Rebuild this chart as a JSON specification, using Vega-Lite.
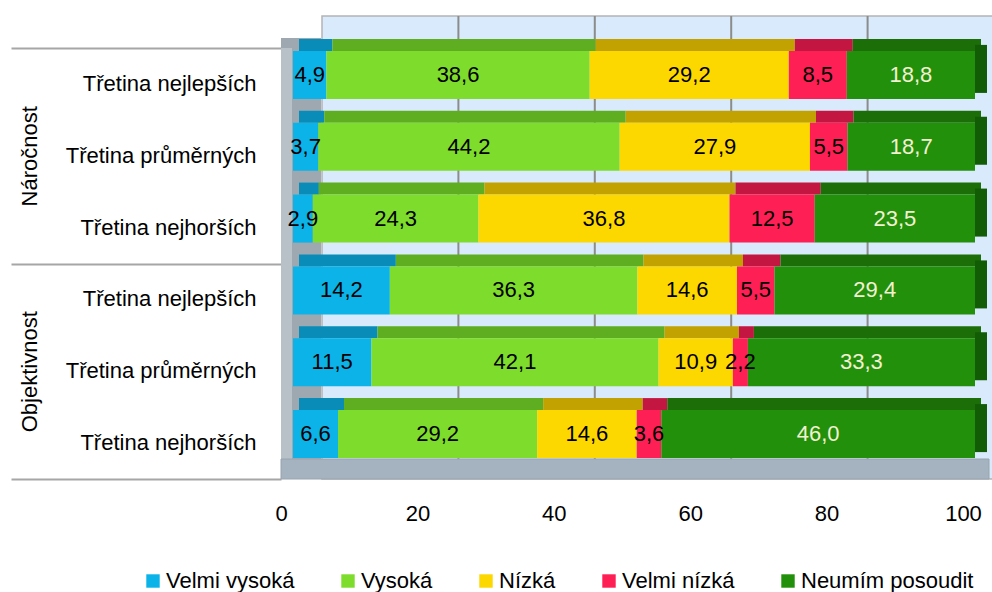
{
  "$schema": "https://vega.github.io/schema/vega-lite/v6.json",
  "padding": {"left": 10, "top": 15, "right": 0, "bottom": 0},
  "width": 682,
  "height": 431,
  "background": "white",
  "config": {
    "view": {"stroke": null},
    "font": "Liberation Sans, Arial, sans-serif",
    "locale": {"number": {"decimal": ",", "thousands": "\u00a0", "grouping": [3], "currency": ["", " Kč"]}}
  },
  "datasets": {
    "vals": [
      {"row": "Náročnost|Třetina nejlepších", "cat": "Velmi vysoká", "k": 1, "v": 4.9},
      {"row": "Náročnost|Třetina nejlepších", "cat": "Vysoká", "k": 2, "v": 38.6},
      {"row": "Náročnost|Třetina nejlepších", "cat": "Nízká", "k": 3, "v": 29.2},
      {"row": "Náročnost|Třetina nejlepších", "cat": "Velmi nízká", "k": 4, "v": 8.5},
      {"row": "Náročnost|Třetina nejlepších", "cat": "Neumím posoudit", "k": 5, "v": 18.8},
      {"row": "Náročnost|Třetina průměrných", "cat": "Velmi vysoká", "k": 1, "v": 3.7},
      {"row": "Náročnost|Třetina průměrných", "cat": "Vysoká", "k": 2, "v": 44.2},
      {"row": "Náročnost|Třetina průměrných", "cat": "Nízká", "k": 3, "v": 27.9},
      {"row": "Náročnost|Třetina průměrných", "cat": "Velmi nízká", "k": 4, "v": 5.5},
      {"row": "Náročnost|Třetina průměrných", "cat": "Neumím posoudit", "k": 5, "v": 18.7},
      {"row": "Náročnost|Třetina nejhorších", "cat": "Velmi vysoká", "k": 1, "v": 2.9},
      {"row": "Náročnost|Třetina nejhorších", "cat": "Vysoká", "k": 2, "v": 24.3},
      {"row": "Náročnost|Třetina nejhorších", "cat": "Nízká", "k": 3, "v": 36.8},
      {"row": "Náročnost|Třetina nejhorších", "cat": "Velmi nízká", "k": 4, "v": 12.5},
      {"row": "Náročnost|Třetina nejhorších", "cat": "Neumím posoudit", "k": 5, "v": 23.5},
      {"row": "Objektivnost|Třetina nejlepších", "cat": "Velmi vysoká", "k": 1, "v": 14.2},
      {"row": "Objektivnost|Třetina nejlepších", "cat": "Vysoká", "k": 2, "v": 36.3},
      {"row": "Objektivnost|Třetina nejlepších", "cat": "Nízká", "k": 3, "v": 14.6},
      {"row": "Objektivnost|Třetina nejlepších", "cat": "Velmi nízká", "k": 4, "v": 5.5},
      {"row": "Objektivnost|Třetina nejlepších", "cat": "Neumím posoudit", "k": 5, "v": 29.4},
      {"row": "Objektivnost|Třetina průměrných", "cat": "Velmi vysoká", "k": 1, "v": 11.5},
      {"row": "Objektivnost|Třetina průměrných", "cat": "Vysoká", "k": 2, "v": 42.1},
      {"row": "Objektivnost|Třetina průměrných", "cat": "Nízká", "k": 3, "v": 10.9},
      {"row": "Objektivnost|Třetina průměrných", "cat": "Velmi nízká", "k": 4, "v": 2.2},
      {"row": "Objektivnost|Třetina průměrných", "cat": "Neumím posoudit", "k": 5, "v": 33.3},
      {"row": "Objektivnost|Třetina nejhorších", "cat": "Velmi vysoká", "k": 1, "v": 6.6},
      {"row": "Objektivnost|Třetina nejhorších", "cat": "Vysoká", "k": 2, "v": 29.2},
      {"row": "Objektivnost|Třetina nejhorších", "cat": "Nízká", "k": 3, "v": 14.6},
      {"row": "Objektivnost|Třetina nejhorších", "cat": "Velmi nízká", "k": 4, "v": 3.6},
      {"row": "Objektivnost|Třetina nejhorších", "cat": "Neumím posoudit", "k": 5, "v": 46.0}
    ],
    "grid": [{"g": 20}, {"g": 40}, {"g": 60}, {"g": 80}],
    "groups": [{"group": "Náročnost"}, {"group": "Objektivnost"}]
  },
  "layer": [
    {
      "layer": [
        {
          "data": {"values": [{"a": 0, "b": 100}]},
          "mark": {"type": "rect", "fill": "#d8eafb", "stroke": "#b4b4b4", "strokeWidth": 1.5, "xOffset": 41, "x2Offset": 30, "yOffset": -32},
          "encoding": {
            "x": {"field": "a", "type": "quantitative", "scale": {"domain": [0, 100], "nice": false, "zero": true}, "axis": {"values": [0, 20, 40, 60, 80, 100], "ticks": false, "tickSize": 0, "grid": false, "domain": false, "labelFontSize": 22, "labelPadding": 24, "labelColor": "#000000", "title": null, "labelFlush": false}},
            "x2": {"field": "b"}
          }
        },
        {
          "data": {"name": "grid"},
          "mark": {"type": "rule", "color": "#8c8c8c", "strokeWidth": 2, "xOffset": 41, "yOffset": -32},
          "encoding": {"x": {"field": "g", "type": "quantitative"}}
        },
        {
          "data": {"values": [{"a": 0}]},
          "mark": {"type": "rect", "fill": "#9ea8b1", "x2Offset": 40, "yOffset": -10},
          "encoding": {"x": {"field": "a", "type": "quantitative"}, "x2": {"field": "a"}}
        },
        {
          "data": {"values": [{"a": 0}]},
          "mark": {"type": "rect", "fill": "#b9c1c8", "x2Offset": 11},
          "encoding": {"x": {"field": "a", "type": "quantitative"}, "x2": {"field": "a"}}
        },
        {
          "data": {"values": [{"a": 0, "b": 100}]},
          "mark": {"type": "rect", "fill": "#a5b3c0", "stroke": "#98a4ae", "strokeWidth": 1, "x2Offset": 26, "yOffset": 411},
          "encoding": {"x": {"field": "a", "type": "quantitative"}, "x2": {"field": "b"}}
        },
        {
          "data": {"name": "vals"},
          "mark": {"type": "bar", "height": 12, "yOffset": -39, "xOffset": 18, "x2Offset": 18},
          "encoding": {
            "y": {"field": "row", "type": "nominal", "scale": {"domain": ["Náročnost|Třetina nejlepších", "Náročnost|Třetina průměrných", "Náročnost|Třetina nejhorších", "Objektivnost|Třetina nejlepších", "Objektivnost|Třetina průměrných", "Objektivnost|Třetina nejhorších"], "paddingInner": 0, "paddingOuter": 0}, "axis": {"orient": "left", "title": null, "ticks": false, "domain": false, "labelFontSize": 22, "labelPadding": 25, "labelColor": "#000000", "labelLimit": 300, "labelExpr": "split(datum.label, '|')[1]"}},
            "x": {"field": "v", "type": "quantitative", "stack": "zero"},
            "order": {"field": "k"},
            "color": {"field": "cat", "type": "nominal", "legend": null, "scale": {"domain": ["Velmi vysoká", "Vysoká", "Nízká", "Velmi nízká", "Neumím posoudit"], "range": ["#0a8cb8", "#5fae22", "#c2a200", "#c31640", "#1c6e08"]}}
          }
        },
        {
          "data": {"name": "vals"},
          "transform": [{"filter": "datum.k === 5"}],
          "mark": {"type": "bar", "height": 48, "yOffset": -15, "xOffset": 12, "x2Offset": 24, "fill": "#135c06"},
          "encoding": {
            "y": {"field": "row", "type": "nominal", "axis": {"orient": "left", "title": null, "ticks": false, "domain": false, "labelFontSize": 22, "labelPadding": 25, "labelColor": "#000000", "labelLimit": 300, "labelExpr": "split(datum.label, '|')[1]"}},
            "x": {"datum": 100, "type": "quantitative"},
            "x2": {"datum": 100}
          }
        },
        {
          "data": {"name": "vals"},
          "mark": {"type": "bar", "height": 48, "yOffset": -9, "xOffset": 12, "x2Offset": 12},
          "encoding": {
            "y": {"field": "row", "type": "nominal", "axis": {"orient": "left", "title": null, "ticks": false, "domain": false, "labelFontSize": 22, "labelPadding": 25, "labelColor": "#000000", "labelLimit": 300, "labelExpr": "split(datum.label, '|')[1]"}},
            "x": {"field": "v", "type": "quantitative", "stack": "zero"},
            "order": {"field": "k"},
            "color": {"field": "cat", "type": "nominal", "title": null, "scale": {"domain": ["Velmi vysoká", "Vysoká", "Nízká", "Velmi nízká", "Neumím posoudit"], "range": ["#0bb3e8", "#7edc2c", "#fcd800", "#fe1f55", "#23900c"]}, "legend": {"orient": "none", "legendX": -139, "legendY": 522, "direction": "horizontal", "symbolType": "square", "symbolSize": 180, "symbolStrokeWidth": 0, "labelFontSize": 22, "labelColor": "#000000", "columnPadding": 42, "labelOffset": 2, "labelLimit": 400}}
          }
        },
        {
          "data": {"name": "vals"},
          "mark": {"type": "text", "fontSize": 22, "yOffset": -9, "xOffset": 12},
          "encoding": {
            "y": {"field": "row", "type": "nominal", "axis": {"orient": "left", "title": null, "ticks": false, "domain": false, "labelFontSize": 22, "labelPadding": 25, "labelColor": "#000000", "labelLimit": 300, "labelExpr": "split(datum.label, '|')[1]"}},
            "x": {"field": "v", "type": "quantitative", "stack": "zero", "bandPosition": 0.5},
            "order": {"field": "k"},
            "text": {"field": "v", "type": "quantitative", "format": ".1f"},
            "color": {"condition": {"test": "datum.k === 5", "value": "#f3f0d2"}, "value": "#000000"}
          }
        }
      ],
      "resolve": {"scale": {"color": "independent"}}
    },
    {
      "data": {"name": "groups"},
      "mark": {"type": "text", "text": "", "opacity": 0},
      "encoding": {
        "y": {"field": "group", "type": "nominal", "scale": {"paddingInner": 0, "paddingOuter": 0}, "axis": {"orient": "left", "title": null, "domain": false, "ticks": true, "tickBand": "extent", "tickSize": 270, "tickColor": "#a6a6a6", "tickWidth": 2, "labelAngle": 270, "labelAlign": "center", "labelBaseline": "middle", "labelPadding": -18, "labelFontSize": 22, "labelColor": "#000000"}}
      }
    }
  ],
  "resolve": {"scale": {"y": "independent"}, "axis": {"y": "independent"}}
}
